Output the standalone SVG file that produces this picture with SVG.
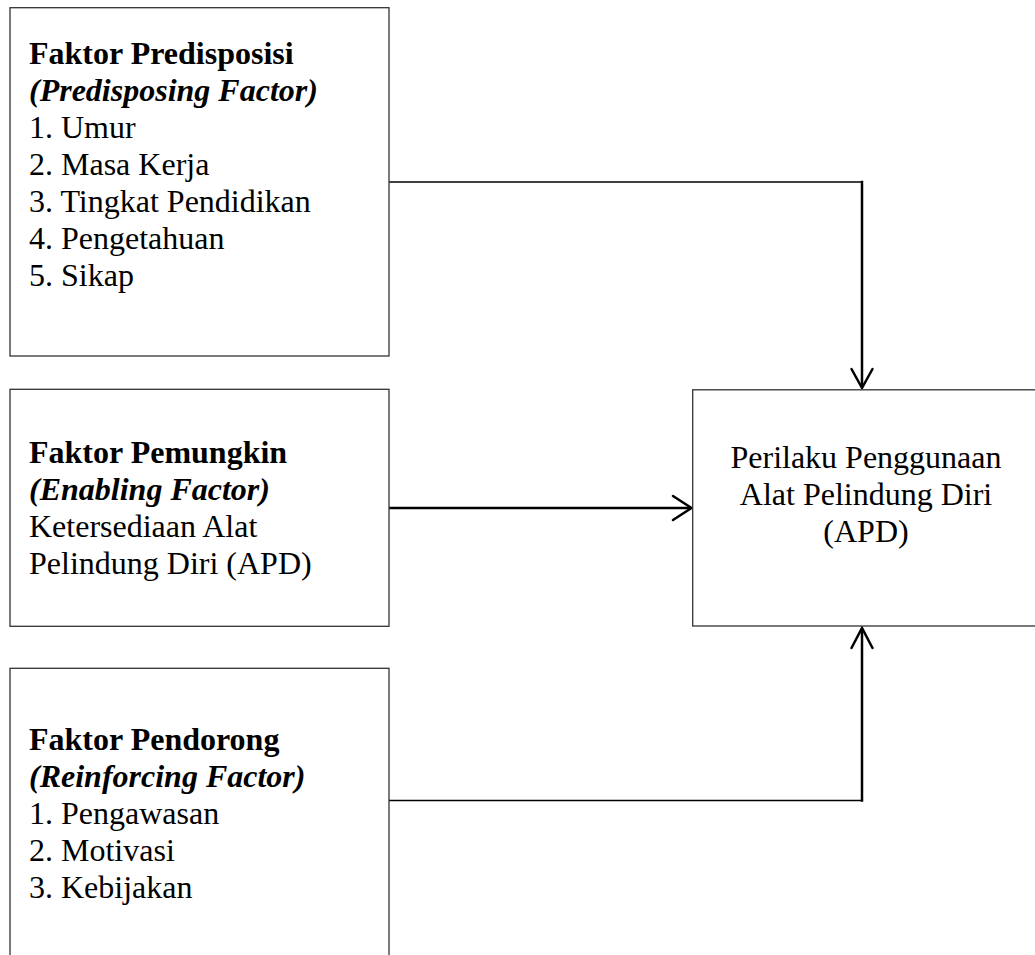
<svg xmlns="http://www.w3.org/2000/svg" width="1035" height="955" viewBox="0 0 1035 955">
<style>
.box{fill:#fff;stroke:#333;stroke-width:1.3}
.t{font-family:"Liberation Serif","Times New Roman",serif;font-size:32px;fill:#000}
.b{font-weight:bold}
.bi{font-weight:bold;font-style:italic}
.c{fill:none;stroke:#000;stroke-width:2.5;stroke-linecap:square}
.thin{fill:none;stroke:#000;stroke-width:1.4}
.head{fill:none;stroke:#000;stroke-width:2.5;stroke-linecap:round;stroke-linejoin:miter}
</style>
<rect width="1035" height="955" fill="#fff"/>
<g id="connectors">
  <line class="thin" x1="389" y1="182" x2="862" y2="182" stroke="#555"/>
  <line class="c" x1="862" y1="182" x2="862" y2="386"/>
  <polyline class="head" points="851.5,369 862,388 872.5,369"/>
  <line class="c" x1="389" y1="508" x2="689" y2="508"/>
  <polyline class="head" points="673,496 691.5,508 673,520"/>
  <line class="thin" x1="389" y1="800.5" x2="862" y2="800.5"/>
  <line class="c" x1="862" y1="800.5" x2="862" y2="630"/>
  <polyline class="head" points="851.5,648 862,628 872.5,648"/>
</g>
<g id="predisposing">
  <rect class="box" x="10" y="7.7" width="379" height="348.3"/>
  <text class="t b" x="29" y="63.5">Faktor Predisposisi</text>
  <text class="t bi" x="29" y="100.5">(Predisposing Factor)</text>
  <text class="t" x="29" y="137.5">1. Umur</text>
  <text class="t" x="29" y="174.5">2. Masa Kerja</text>
  <text class="t" x="29" y="211.5">3. Tingkat Pendidikan</text>
  <text class="t" x="29" y="248.5">4. Pengetahuan</text>
  <text class="t" x="29" y="285.5">5. Sikap</text>
</g>
<g id="enabling">
  <rect class="box" x="10" y="389.3" width="379" height="237"/>
  <text class="t b" x="29" y="462.5">Faktor Pemungkin</text>
  <text class="t bi" x="29" y="499.5">(Enabling Factor)</text>
  <text class="t" x="29" y="536.5">Ketersediaan Alat</text>
  <text class="t" x="29" y="573.5">Pelindung Diri (APD)</text>
</g>
<g id="reinforcing">
  <rect class="box" x="10" y="668.3" width="379" height="300"/>
  <text class="t b" x="29" y="749.5">Faktor Pendorong</text>
  <text class="t bi" x="29" y="786.5">(Reinforcing Factor)</text>
  <text class="t" x="29" y="823.5">1. Pengawasan</text>
  <text class="t" x="29" y="860.5">2. Motivasi</text>
  <text class="t" x="29" y="897.5">3. Kebijakan</text>
</g>
<g id="behaviour">
  <rect class="box" x="692.7" y="389.8" width="360" height="236.2"/>
  <text class="t" x="866" y="468" text-anchor="middle">Perilaku Penggunaan</text>
  <text class="t" x="866" y="505" text-anchor="middle">Alat Pelindung Diri</text>
  <text class="t" x="866" y="542" text-anchor="middle">(APD)</text>
</g>
</svg>
